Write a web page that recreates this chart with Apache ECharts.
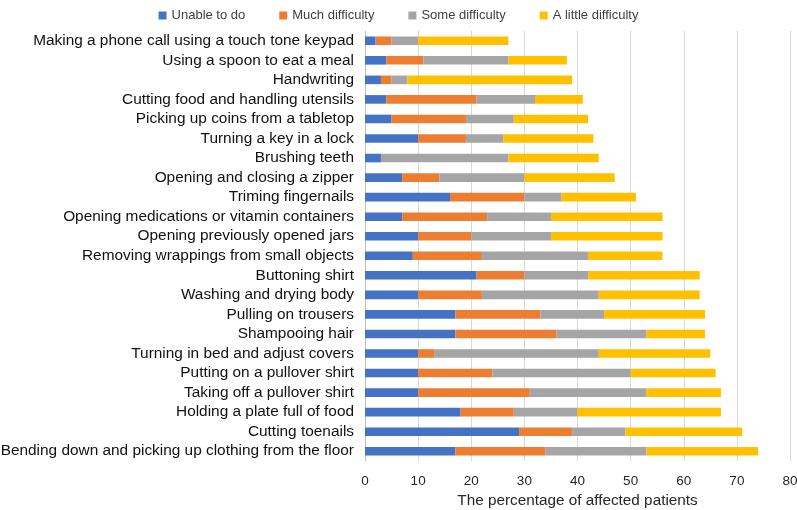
<!DOCTYPE html>
<html><head><meta charset="utf-8">
<script src="https://cdn.jsdelivr.net/npm/echarts@6/dist/echarts.min.js"></script>
<style>html,body{margin:0;padding:0;background:#fff}#c{width:797px;height:510px}</style>
</head><body><div id="c"></div>
<script>
const categories = [
  "Making a phone call using a touch tone keypad",
  "Using a spoon to eat a meal",
  "Handwriting",
  "Cutting food and handling utensils",
  "Picking up coins from a tabletop",
  "Turning a key in a lock",
  "Brushing teeth",
  "Opening and closing a zipper",
  "Triming fingernails",
  "Opening medications or vitamin containers",
  "Opening previously opened jars",
  "Removing wrappings from small objects",
  "Buttoning shirt",
  "Washing and drying body",
  "Pulling on trousers",
  "Shampooing hair",
  "Turning in bed and adjust covers",
  "Putting on a pullover shirt",
  "Taking off a pullover shirt",
  "Holding a plate full of food",
  "Cutting toenails",
  "Bending down and picking up clothing from the floor"
];
const unableToDo     = [2,4,3,4,5,10,3,7,16,7,10,9,21,10,17,17,10,10,10,18,29,17];
const muchDifficulty = [3,7,2,17,14,9,0,7,14,16,10,13,9,12,16,19,3,14,21,10,10,17];
const someDifficulty = [5,16,3,11,9,7,24,16,7,12,15,20,12,22,12,17,31,26,22,12,10,19];
const littleDifficulty = [17,11,31,9,14,17,17,17,14,21,21,14,21,19,19,11,21,16,14,27,22,21];
const seriesNames = ["Unable to do","Much difficulty","Some difficulty","A little difficulty"];
const xTicks = [0,10,20,30,40,50,60,70,80];

const colors = ["#4472C4","#ED7D31","#A5A5A5","#FFC000"];
const font = "Liberation Sans, Arial, sans-serif";
const chart = echarts.init(document.getElementById('c'), null, {renderer:'canvas'});
const vals = [unableToDo, muchDifficulty, someDifficulty, littleDifficulty];
chart.setOption({
  animation:false,
  color: colors,
  legend: {
    top: 4, left: 'center', itemWidth: 8, itemHeight: 8, itemGap: 34,
    icon: 'rect',
    textStyle: {fontFamily: font, fontSize: 13, color: '#404040'},
    data: seriesNames
  },
  grid: {left: 365, right: 7, top: 31, bottom: 49, containLabel: false, outerBoundsMode: 'none'},
  xAxis: {
    type: 'value', min: xTicks[0], max: xTicks[xTicks.length-1], interval: 10,
    name: 'The percentage of affected patients', nameLocation: 'middle', nameGap: 24,
    nameTextStyle: {fontFamily: font, fontSize: 15.3, color: '#262626'},
    axisLabel: {fontFamily: font, fontSize: 13.5, color: '#262626', margin: 13},
    axisLine: {show: false}, axisTick: {show: false},
    splitLine: {lineStyle: {color: '#D9D9D9', width: 1}}
  },
  yAxis: {
    type: 'category', inverse: true, data: categories,
    axisLabel: {fontFamily: font, fontSize: 15.4, color: '#111', margin: 11, interval: 0, hideOverlap: false},
    axisLine: {lineStyle: {color: '#BFBFBF'}}, axisTick: {show: false}
  },
  series: seriesNames.map((n,i)=>({
    name: n, type: 'bar', stack: 'all', data: vals[i], barWidth: '44%',
    itemStyle: {color: colors[i]}
  }))
});
</script></body></html>
